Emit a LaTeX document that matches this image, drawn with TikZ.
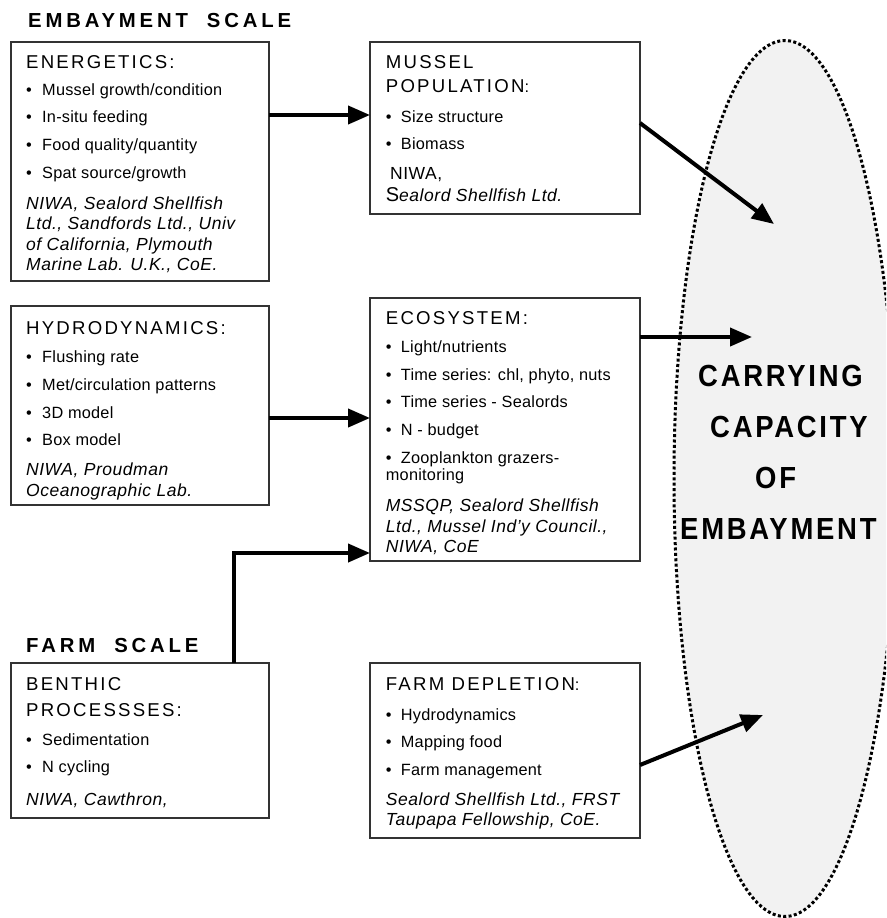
\documentclass[tikz,border=0pt]{standalone}
\usepackage{fontspec}
\setmainfont{Liberation Sans}
\newfontfamily\hdrfont[LetterSpace=12]{Liberation Sans}
\newfontfamily\bodyfont[LetterSpace=1.5]{Liberation Sans}
\newfontfamily\credfont[LetterSpace=3]{Liberation Sans}
\newfontfamily\scalefont[LetterSpace=19]{Liberation Sans}
\newfontfamily\capfont[LetterSpace=9,FakeStretch=0.9]{Liberation Sans}
\usetikzlibrary{arrows.meta,shapes.geometric}

\tikzset{
  box/.style={draw=black!80, line width=1.2pt, fill=white, inner sep=0pt,
              outer sep=0pt, anchor=north west},
  hdr/.style={anchor=base west, inner sep=0pt, font=\hdrfont\fontsize{18.6}{18.6}\selectfont},
  item/.style={anchor=base west, inner sep=0pt, font=\bodyfont\fontsize{16.3}{16.3}\selectfont},
  bul/.style={item},
  cred/.style={anchor=base west, inner sep=0pt, font=\credfont\itshape\fontsize{17.5}{17.5}\selectfont},
  plain/.style={anchor=base west, inner sep=0pt, font=\credfont\fontsize{17.5}{17.5}\selectfont},
  scale head/.style={anchor=base west, inner sep=0pt, font=\scalefont\bfseries\fontsize{20.3}{20.3}\selectfont},
  cctext/.style={anchor=base west, inner sep=0pt, font=\capfont\bfseries\fontsize{30.5}{30.5}\selectfont},
  link/.style={line width=4pt, -{Triangle[length=22pt,width=18pt]}},
  capacity/.style={ellipse, draw=black, fill=black!5, line width=3pt,
                   dash pattern=on 3pt off 2.4pt, inner sep=0pt},
}

\begin{document}
\begin{tikzpicture}[x=1pt,y=-1pt]
\useasboundingbox (0,0) rectangle (886,918);
\clip (0,0) rectangle (886,918);
\fill[white] (0,0) rectangle (886,918);

% carrying-capacity ellipse on the right
\node[capacity, minimum width=222pt, minimum height=876pt] (cc) at (785,478.5) {};
\node[cctext] (cc1) at (698,386) {CARRYING};
\node[cctext] (cc2) at (710,437.7) {CAPACITY};
\node[cctext] (cc3) at (755,488) {OF};
\node[cctext] (cc4) at (680,539) {EMBAYMENT};

% scale headings
\node[scale head] (emb) at (28,27.7) {EMBAYMENT\ \ SCALE};
\node[scale head] (frm) at (26,652) {FARM\ \ SCALE};

% ---- boxes
\node[box, minimum width=258pt, minimum height=239pt] (energ) at (11,42) {};
\node[box, minimum width=258pt, minimum height=199pt] (hydro) at (11,306) {};
\node[box, minimum width=258pt, minimum height=155pt] (benth) at (11,663) {};
\node[box, minimum width=270pt, minimum height=172pt] (mussel) at (370,42) {};
\node[box, minimum width=270pt, minimum height=263pt] (ecos) at (370,298) {};
\node[box, minimum width=270pt, minimum height=175pt] (farm) at (370,663) {};

% energetics
\node[hdr] (energ-h) at (26,68.3) {ENERGETICS:};
\foreach \t [count=\i] in {{Mussel growth/condition}, {In-situ feeding},
    {Food quality/quantity}, {Spat source/growth}}{
  \node[bul] (energ-b\i) at (26,{95+27.7*(\i-1)}) {•};
  \node[item] (energ-t\i) at (42,{95+27.7*(\i-1)}) {\t};
}
\node[cred] (energ-c1) at (26,209) {NIWA, Sealord Shellfish};
\node[cred] (energ-c2) at (26,229.5) {Ltd., Sandfords Ltd., Univ};
\node[cred] (energ-c3) at (26,250) {of California, Plymouth};
\node[cred] (energ-c4) at (26,270.5) {Marine Lab. U.K., CoE.};

% hydrodynamics
\node[hdr] (hydro-h) at (26,334) {HYDRODYNAMICS:};
\foreach \t [count=\i] in {{Flushing rate}, {Met/circulation patterns},
    {3D model}, {Box model}}{
  \node[bul] (hydro-b\i) at (26,{362.7+27.7*(\i-1)}) {•};
  \node[item] (hydro-t\i) at (42,{362.7+27.7*(\i-1)}) {\t};
}
\node[cred] (hydro-c1) at (26,475.7) {NIWA, Proudman};
\node[cred] (hydro-c2) at (26,496.2) {Oceanographic Lab.};

% benthic processes
\node[hdr] (benth-h1) at (26,690) {BENTHIC};
\node[hdr] (benth-h2) at (26,716.7) {PROCESSSES:};
\foreach \t [count=\i] in {Sedimentation, {N cycling}}{
  \node[bul] (benth-b\i) at (26,{745+27.7*(\i-1)}) {•};
  \node[item] (benth-t\i) at (42,{745+27.7*(\i-1)}) {\t};
}
\node[cred] (benth-c1) at (26,805) {NIWA, Cawthron,};

% mussel population
\node[hdr] (mussel-h1) at (385.7,68) {MUSSEL};
\node[hdr] (mussel-h2) at (385.7,92.7) {POPULATION{\bodyfont\fontsize{16.3}{16.3}\selectfont:}};
\foreach \t [count=\i] in {{Size structure}, Biomass}{
  \node[bul] (mussel-b\i) at (385.7,{122.7+26.6*(\i-1)}) {•};
  \node[item] (mussel-t\i) at (400.7,{122.7+26.6*(\i-1)}) {\t};
}
\node[plain] (mussel-c1) at (390,179.3) {NIWA,};
\node[cred] (mussel-c2) at (385.7,201.7) {{\upshape\hdrfont\fontsize{20}{20}\selectfont S}ealord Shellfish Ltd.};

% ecosystem
\node[hdr] (ecos-h) at (385.7,324) {ECOSYSTEM:};
\foreach \t/\y [count=\i] in {{Light/nutrients}/352, {Time series: chl, phyto, nuts}/380,
    {Time series - Sealords}/407.7, {N - budget}/435.5, {Zooplankton grazers-}/463.5}{
  \node[bul] (ecos-b\i) at (385.7,\y) {•};
  \node[item] (ecos-t\i) at (400.7,\y) {\t};
}
\node[item] (ecos-t6) at (385.7,480) {monitoring};
\node[cred] (ecos-c1) at (385.7,511.7) {MSSQP, Sealord Shellfish};
\node[cred] (ecos-c2) at (385.7,532) {Ltd., Mussel Ind’y Council.,};
\node[cred] (ecos-c3) at (385.7,552.3) {NIWA, CoE};

% farm depletion
\node[hdr] (farm-h) at (385.7,690.7) {FARM DEPLETION{\bodyfont\fontsize{16.3}{16.3}\selectfont:}};
\foreach \t/\y [count=\i] in {{Hydrodynamics}/720.7, {Mapping food}/747.3, {Farm management}/775}{
  \node[bul] (farm-b\i) at (385.7,\y) {•};
  \node[item] (farm-t\i) at (400.7,\y) {\t};
}
\node[cred] (farm-c1) at (385.7,805) {Sealord Shellfish Ltd., FRST};
\node[cred] (farm-c2) at (385.7,825.5) {Taupapa Fellowship, CoE.};

% ---- connectors
\coordinate (r1) at (0,115);
\coordinate (r2) at (0,418);
\coordinate (r3) at (234,553);
\coordinate (r4) at (0,123);
\coordinate (r5) at (0,337);
\coordinate (r6) at (0,765);
\coordinate (tip1) at (774,224);
\coordinate (tip2) at (752,337);
\coordinate (tip3) at (763,715);

\draw[link] (energ.east |- r1) -- (mussel.west |- r1);
\draw[link] (hydro.east |- r2) -- (ecos.west |- r2);
\draw[link] (benth.north -| r3) |- (ecos.west |- r3);
\draw[link] (mussel.east |- r4) -- (tip1);
\draw[link] (ecos.east |- r5) -- (tip2);
\draw[link] (farm.east |- r6) -- (tip3);
\end{tikzpicture}
\end{document}
